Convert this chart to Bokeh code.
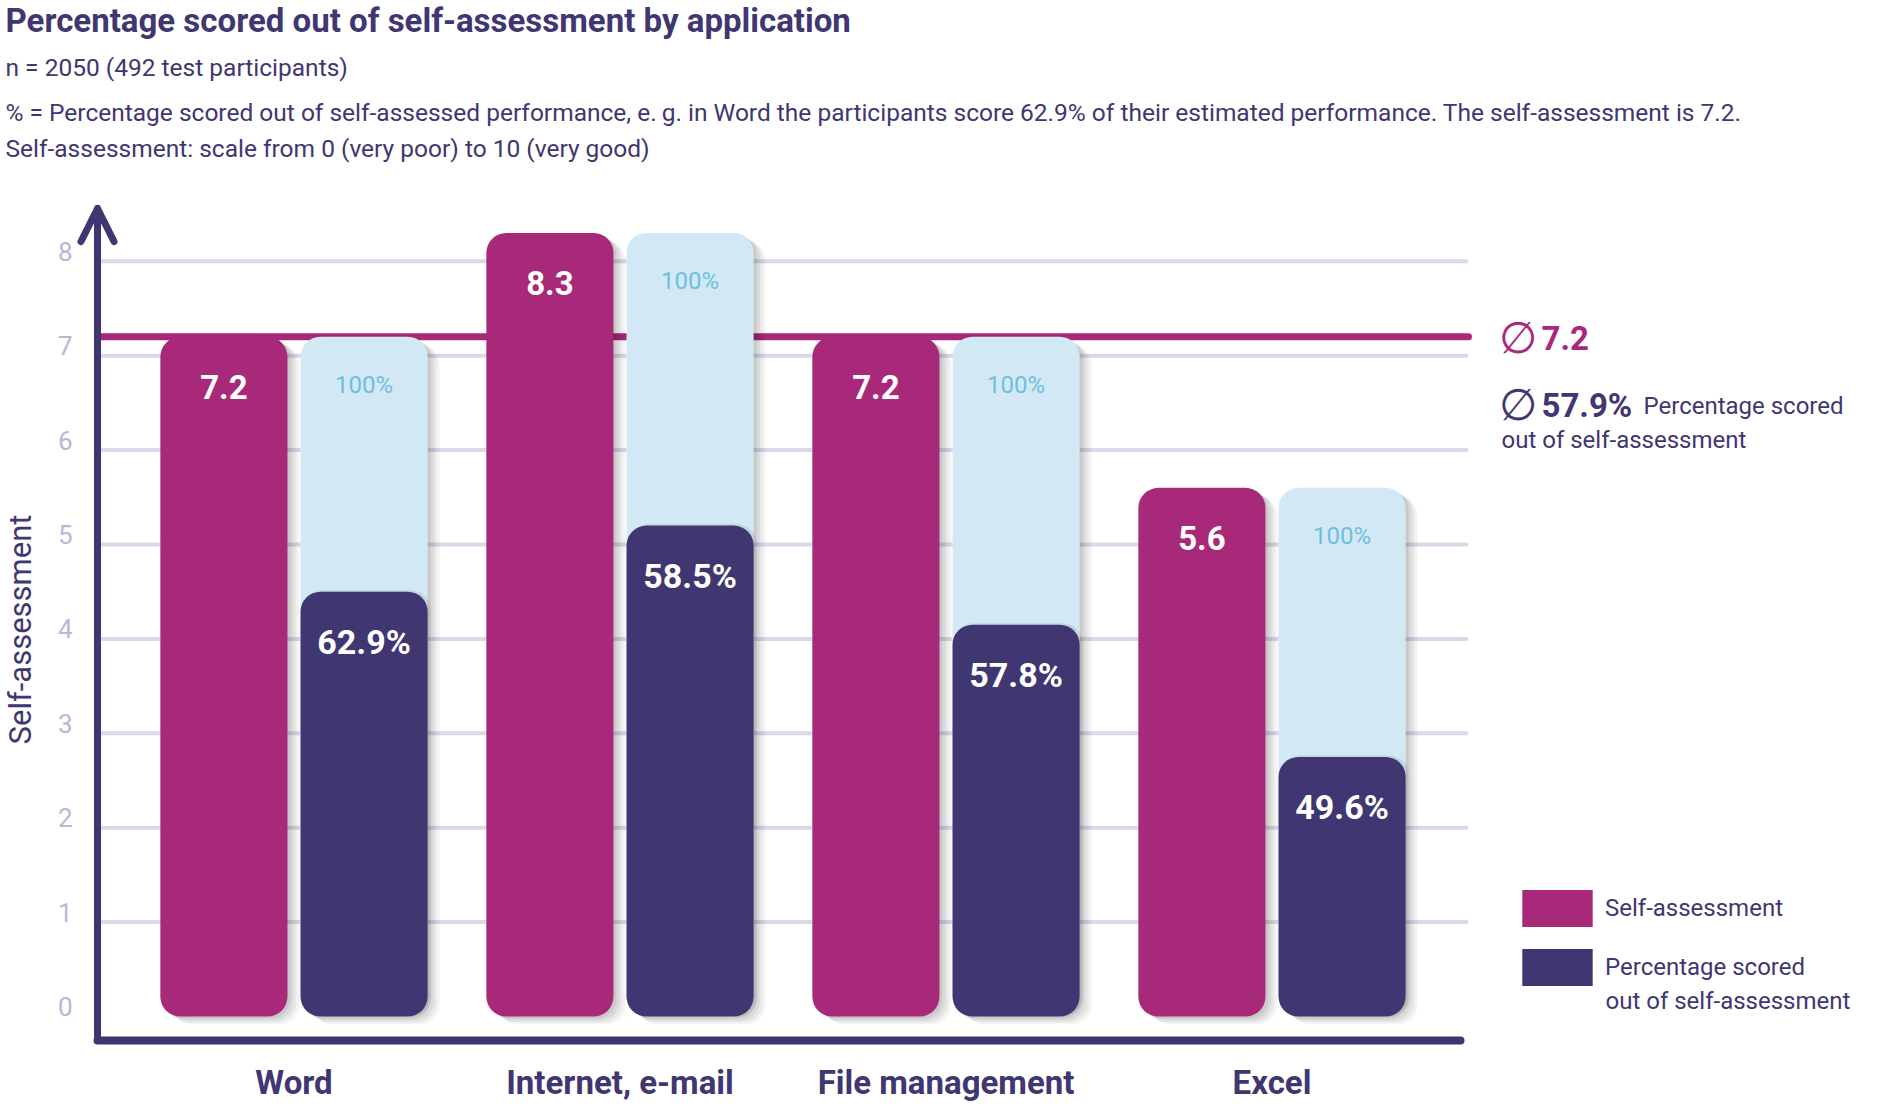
import math
from bokeh.plotting import figure
from bokeh.models import (Range1d, Label, Arrow, OpenHead, FixedTicker, LinearAxis,
                          Legend, LegendItem, ColumnDataSource)
from bokeh.transform import dodge
from bokeh.core.properties import value
from bokeh.embed import file_html
from bokeh.resources import INLINE

# ---------------- data ----------------
categories = ["Word", "Internet, e-mail", "File management", "Excel"]
self_assessment = [7.2, 8.3, 7.2, 5.6]
scored_pct = [62.9, 58.5, 57.8, 49.6]
scored_bar = [4.5, 5.2, 4.15, 2.75]          # heights of the dark bars as drawn
reference_pct = [100, 100, 100, 100]
avg_self_assessment = 7.2
avg_scored_pct = 57.9
y_ticks = [0, 1, 2, 3, 4, 5, 6, 7, 8]
grid_ticks = [1, 2, 3, 4, 5, 6, 7, 8]

title_text = "Percentage scored out of self-assessment by application"
subtitle_1 = "n = 2050 (492 test participants)"
subtitle_2 = ("% = Percentage scored out of self-assessed performance, e.\u2009g. in Word the participants "
              "score 62.9% of their estimated performance. The self-assessment is 7.2.")
subtitle_3 = "Self-assessment: scale from 0 (very poor) to 10 (very good)"
y_label = "Self-assessment"
legend_self = "Self-assessment"
legend_scored_1 = "Percentage scored"
legend_scored_2 = "out of self-assessment"
avg_note_1 = "Percentage scored"
avg_note_2 = "out of self-assessment"

# ---------------- styles / layout ----------------
MAG = "#A8297A"
DARK = "#3F3672"
LIGHT = "#D3E8F5"
LIGHT_TXT = "#6DBFE0"
TICK = "#B5B9D7"
GRID = "#D9D9EA"
FONT = "Roboto"

W, H = 1865, 1105
X_PX, Y_PX = 326.0, 94.4          # pixels per category step / per scale unit
PAGE_X0, PAGE_Y0 = 293.5, 1016.0  # canvas position of first group centre / of value 0


def xs(px):
    return (px - PAGE_X0) / X_PX


def ys(py):
    return (PAGE_Y0 - py) / Y_PX


OFF = 0.215      # bar offset from group centre
BW = 0.39        # bar width
AXIS_X = xs(97)          # y axis line position
AXIS_Y = ys(1040)        # x axis line position
ARROW_TOP = ys(208)
GRID_END = xs(1466)
AVG_END = xs(1468)
XAXIS_END = xs(1460)

pos = list(range(len(categories)))
src = ColumnDataSource(dict(
    pos=pos,
    self=self_assessment,
    scored=scored_bar,
    self_lbl=[f"{v:.1f}" for v in self_assessment],
    pct_lbl=[f"{v:.1f}%" for v in scored_pct],
    full_lbl=[f"{v:d}%" for v in reference_pct],
))
grid_src = ColumnDataSource(dict(g=grid_ticks))

p = figure(width=W, height=H,
           x_range=Range1d(xs(0), xs(W)), y_range=Range1d(ys(H), ys(0)),
           output_backend="svg", toolbar_location=None,
           x_axis_location=None, y_axis_location=None, min_border=0)
p.min_border_left = p.min_border_right = p.min_border_top = p.min_border_bottom = 0
p.outline_line_color = None
p.background_fill_color = "white"
p.border_fill_color = "white"
p.grid.visible = False

# grid lines (limited to the plotting area)
p.segment(x0=AXIS_X, x1=GRID_END, y0="g", y1="g", source=grid_src,
          line_color=GRID, line_width=4, line_cap="round")
# average self-assessment line, behind the bars
p.segment(x0=AXIS_X, x1=AVG_END, y0=avg_self_assessment, y1=avg_self_assessment,
          line_color=MAG, line_width=7, line_cap="round")

# soft shadows
for dxp, dyp, a in [(3, 2, 0.07), (6, 4, 0.06), (9, 6, 0.05), (12, 8, 0.045)]:
    dx, dy = dxp / X_PX, dyp / Y_PX
    for off in (-OFF, OFF):
        p.vbar(x=dodge("pos", off + dx), top=dodge("self", -dy), bottom=-dy,
               width=BW, source=src, fill_color="black", fill_alpha=a, line_color=None,
               border_radius=20)

r_self = p.vbar(x=dodge("pos", -OFF), top="self", bottom=0, width=BW, source=src,
                fill_color=MAG, line_color=None, border_radius=20)
p.vbar(x=dodge("pos", OFF), top="self", bottom=0, width=BW, source=src,
       fill_color=LIGHT, line_color=None, border_radius=20)
for dxp, dyp, a in [(2, -2, 0.05), (4, -1, 0.04)]:
    p.vbar(x=dodge("pos", OFF + dxp / X_PX), top=dodge("scored", -dyp / Y_PX),
           bottom=0, width=BW, source=src, fill_color="black", fill_alpha=a, line_color=None,
           border_radius=20)
r_scored = p.vbar(x=dodge("pos", OFF), top="scored", bottom=0, width=BW, source=src,
                  fill_color=DARK, line_color=None, border_radius=20)

# value labels
p.text(x=dodge("pos", -OFF), y="self", text="self_lbl", source=src, y_offset=50,
       text_align="center", text_baseline="middle", text_color="white",
       text_font=value(FONT), text_font_style="bold", text_font_size="33px")
p.text(x=dodge("pos", OFF), y="self", text="full_lbl", source=src, y_offset=48,
       text_align="center", text_baseline="middle", text_color=LIGHT_TXT,
       text_font=value(FONT), text_font_size="24px")
p.text(x=dodge("pos", OFF), y="scored", text="pct_lbl", source=src, y_offset=50,
       text_align="center", text_baseline="middle", text_color="white",
       text_font=value(FONT), text_font_style="bold", text_font_size="34px")

# x axis (categories)
xaxis = LinearAxis(fixed_location=AXIS_Y, bounds=(AXIS_X, XAXIS_END),
                   ticker=FixedTicker(ticks=pos),
                   major_label_overrides={i: c for i, c in zip(pos, categories)})
xaxis.axis_line_color = DARK
xaxis.axis_line_width = 8
xaxis.axis_line_cap = "round"
xaxis.major_tick_line_color = None
xaxis.minor_tick_line_color = None
xaxis.major_tick_out = 0
xaxis.major_tick_in = 0
xaxis.major_label_standoff = 22
xaxis.major_label_text_font = FONT
xaxis.major_label_text_font_style = "bold"
xaxis.major_label_text_font_size = "33px"
xaxis.major_label_text_color = DARK
p.add_layout(xaxis, "below")

# y axis: tick labels sit slightly above their grid lines, as in the original
LABEL_LIFT = 10 / Y_PX
p.extra_y_ranges = {"ticks": Range1d(ys(H) - LABEL_LIFT, ys(0) - LABEL_LIFT)}
label_centre = ys(629) - LABEL_LIFT
half = 8.008 - label_centre
yaxis = LinearAxis(y_range_name="ticks", fixed_location=AXIS_X, ticker=FixedTicker(ticks=y_ticks),
                   axis_label=y_label, bounds=(label_centre - half, label_centre + half))
yaxis.axis_line_color = None
yaxis.major_tick_line_color = None
yaxis.minor_tick_line_color = None
yaxis.major_tick_out = 0
yaxis.major_tick_in = 0
yaxis.major_label_standoff = 25
yaxis.major_label_text_font = FONT
yaxis.major_label_text_font_size = "26px"
yaxis.major_label_text_color = TICK
yaxis.axis_label_standoff = 16
yaxis.axis_label_text_font = FONT
yaxis.axis_label_text_font_size = "31px"
yaxis.axis_label_text_font_style = "normal"
yaxis.axis_label_text_color = DARK
p.add_layout(yaxis, "left")

# y axis line with arrow head
p.add_layout(Arrow(x_start=AXIS_X, y_start=AXIS_Y, x_end=AXIS_X, y_end=ARROW_TOP,
                   line_color=DARK, line_width=7, line_cap="round",
                   end=OpenHead(size=33, line_color=DARK, line_width=7, line_cap="round",
                                line_join="round")))


# free texts, placed by their left edge and vertical centre (canvas pixels)
def lab(text, px, py, size, color, bold=False):
    p.add_layout(Label(x=xs(px), y=ys(py), text=text, text_font=FONT, text_font_size=f"{size}px",
                       text_font_style="bold" if bold else "normal", text_color=color,
                       text_align="left", text_baseline="middle"))


lab(title_text, 5, 19.5, 33, DARK, bold=True)
lab(subtitle_1, 5, 66.5, 24.5, DARK)
lab(subtitle_2, 5, 112, 24.5, DARK)
lab(subtitle_3, 5, 148, 24.5, DARK)

lab("\u2205", 1498, 337, 44, MAG)
lab(f"{avg_self_assessment:.1f}", 1541, 337.5, 33, MAG, bold=True)
lab("\u2205", 1498, 404, 44, DARK)
lab(f"{avg_scored_pct:.1f}%", 1541, 404.5, 33, DARK, bold=True)
lab(avg_note_1, 1643, 405, 24, DARK)
lab(avg_note_2, 1501, 439, 24, DARK)

legend = Legend(items=[LegendItem(label=legend_self, renderers=[r_self]),
                       LegendItem(label=legend_scored_1, renderers=[r_scored])],
                location=(1513, H - 990.4), orientation="vertical",
                glyph_width=88, glyph_height=46, label_standoff=4, spacing=13,
                padding=0, margin=0, border_line_color=None, background_fill_alpha=0,
                label_text_font=FONT, label_text_font_size="24px", label_text_color=DARK)
p.add_layout(legend)
lab(legend_scored_2, 1605, 1000, 24, DARK)

open("out.html", "w").write(file_html(p, INLINE))
